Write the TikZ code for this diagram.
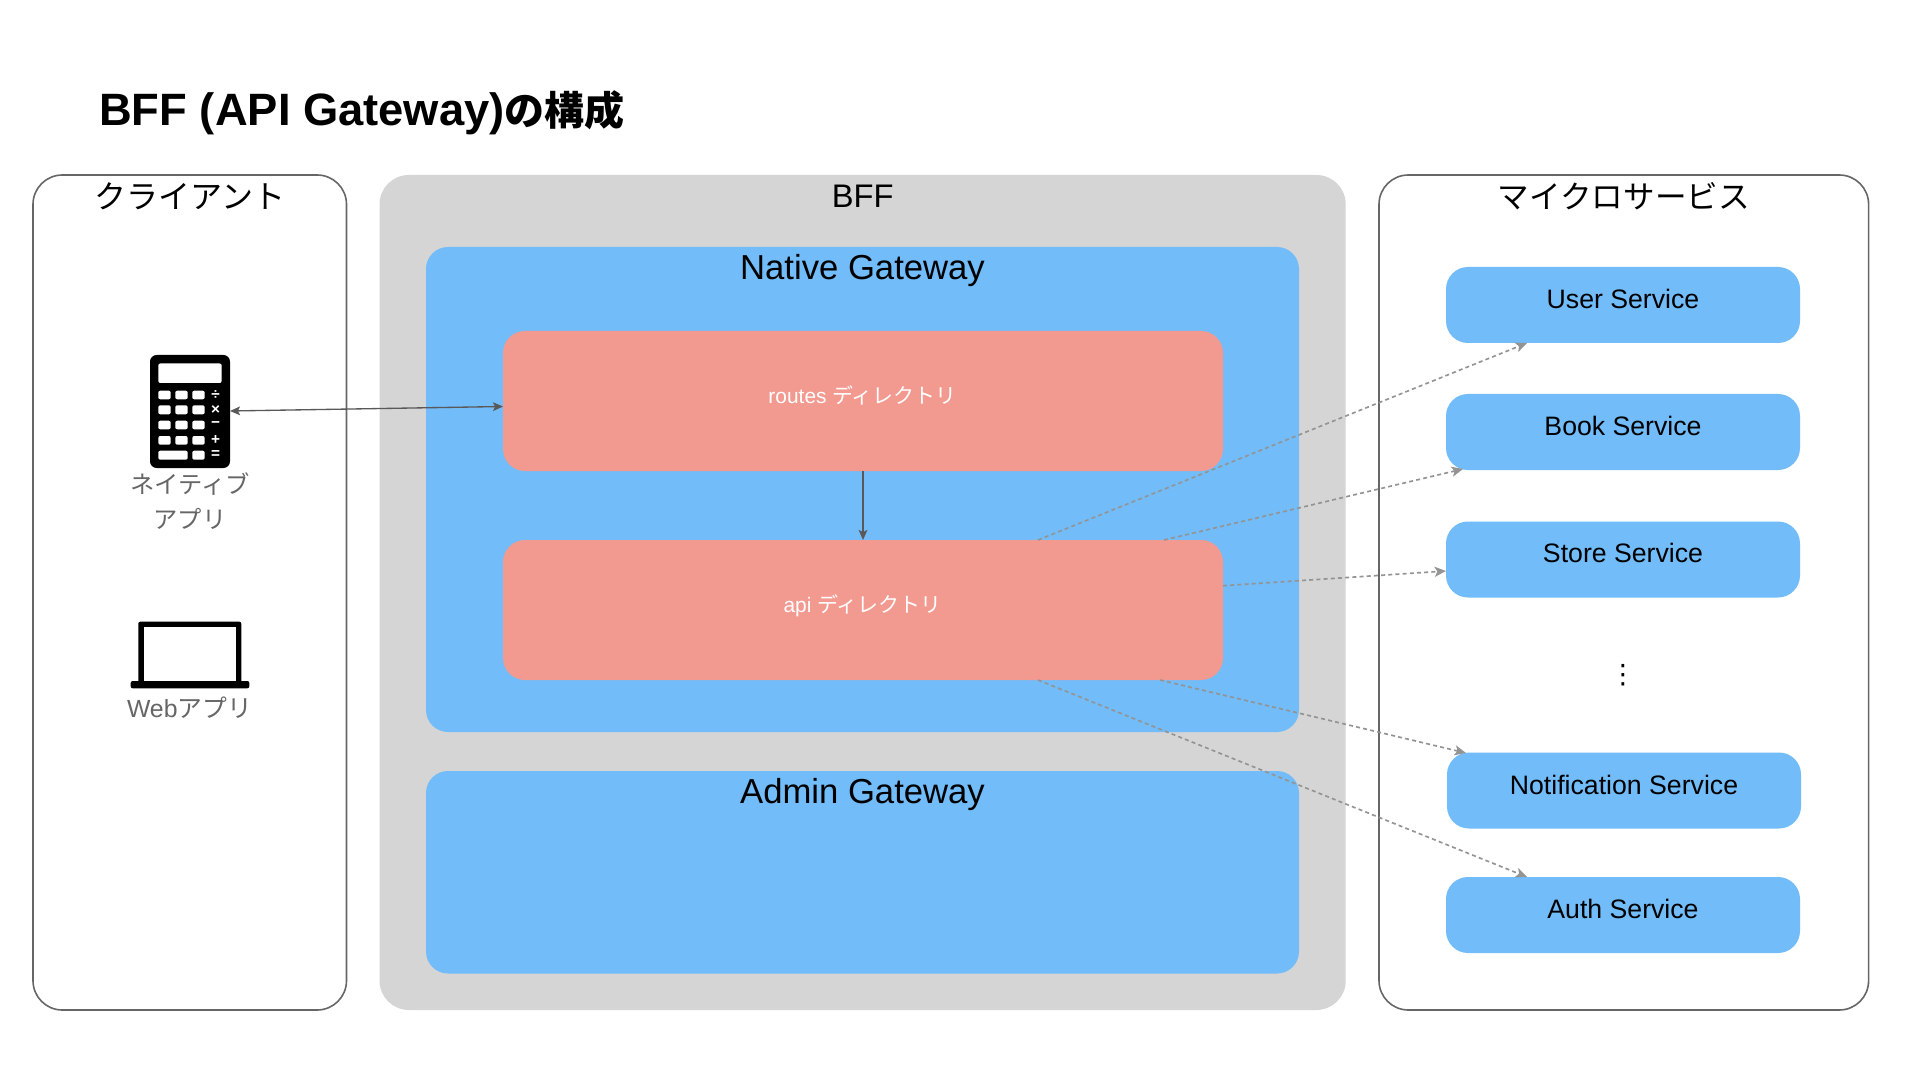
\documentclass[tikz,border=0pt]{standalone}
\usepackage{fontspec}
\setmainfont{Liberation Sans}
\newfontfamily\cjk{Noto Sans CJK JP}
\newfontfamily\dejavu{DejaVu Sans}
\usetikzlibrary{arrows.meta}
\newcommand\fsz[1]{\fontsize{#1}{#1}\selectfont}
\tikzset{
  pxbox/.style 2 args={minimum width=#1*.75pt,minimum height=#2*.75pt,inner sep=0pt,outer sep=0pt,rectangle},
  panel/.style={rounded corners=22pt,draw=none},
  outline/.style={panel,draw=black!60,line width=1.2pt,fill=white},
  grayp/.style={panel,fill=panelgray},
  bluep/.style={rounded corners=16.5pt,fill=svcblue},
  pinkp/.style={rounded corners=16.5pt,fill=dirpink},
  svc/.style={rounded corners=16.5pt,fill=svcblue},
  sect/.style={font=\cjk\fsz{24}},
  gate/.style={font=\fsz{26}},
  svctext/.style={font=\fsz{20}},
  dirtext/.style={font=\fsz{15.7},text=white},
  applabel/.style={font=\cjk\fsz{18.2},text=black!60},
  solidarrow/.style={draw=black!65,line width=1pt,-{Stealth[length=7.5pt,width=6.5pt,inset=1.6pt]}},
  dasharrow/.style={draw=black!42,line width=1.25pt,dash pattern=on 3pt off 2.4pt,-{Stealth[length=8.5pt,width=7.5pt,inset=2pt]}},
  key/.style={fill=white,rounded corners=1.5pt},
  sym/.style={font=\bfseries\fsz{11.5},text=white,inner sep=0pt}
}
\definecolor{panelgray}{HTML}{D5D5D5}
\definecolor{svcblue}{HTML}{71BCF9}
\definecolor{dirpink}{HTML}{F39A90}
\begin{document}
\begin{tikzpicture}[x=0.75pt,y=-0.75pt]
\useasboundingbox (0,0) rectangle (1920,1080);
\fill[white] (0,0) rectangle (1920,1080);
\node[anchor=base west,inner sep=0pt,font=\bfseries\fsz{34}] (title) at (99,126) {BFF (API Gateway){\cjk\fsz{30}{}の構成}};
% panels
\node[outline,pxbox={313.5}{835}] (client) at (189.75,592.5) {};
\node[grayp,pxbox={966.2}{835}] (bff) at (862.6,592.5) {};
\node[outline,pxbox={489.6}{835}] (micro) at (1623.8,592.5) {};
\node[sect] (clientL) at (189.75,196) {クライアント};
\node[font=\fsz{24.5}] (bffL) at (862.6,196) {BFF};
\node[sect,font=\cjk\fsz{23.7}] (microL) at (1623.8,196) {マイクロサービス};
% gateways
\node[bluep,pxbox={873}{485}] (native) at (862.5,489.5) {};
\node[bluep,pxbox={873}{202.5}] (admin) at (862.5,872.25) {};
\node[gate] (nativeL) at (862.5,270.5) {Native Gateway};
\node[gate] (adminL) at (862.5,794.5) {Admin Gateway};
% directories
\node[pinkp,pxbox={720}{140}] (routes) at (863,401) {};
\node[pinkp,pxbox={720}{140}] (api) at (863,610) {};
\node[dirtext] (routesL) at (862.5,395.5) {routes {\cjk ディレクトリ}};
\node[dirtext] (apiL) at (862.5,606) {api {\cjk ディレクトリ}};
% services
\node[svc,pxbox={354}{76}] (user) at (1623,305) {};
\node[svc,pxbox={354}{76}] (book) at (1623,432) {};
\node[svc,pxbox={354}{76}] (store) at (1623,559.5) {};
\node[svc,pxbox={354}{76}] (notif) at (1624,790.5) {};
\node[svc,pxbox={354}{76}] (auth) at (1623,915) {};
\node[svctext] (userL) at (1623,299) {User Service};
\node[svctext] (bookL) at (1623,426) {Book Service};
\node[svctext] (storeL) at (1623,553) {Store Service};
\node[svctext] (notifL) at (1624,785) {Notification Service};
\node[svctext] (authL) at (1623,909) {Auth Service};
\node[font=\dejavu\fsz{20},inner sep=0pt] (dots) at (1623,675.5) {⋮};
% calculator icon
\node[fill=black,rounded corners=5pt,pxbox={80}{113}] (calc) at (190,411.5) {};
\fill[key] (158.3,363.5) rectangle (221.7,383);
\foreach \ya/\yb in {390.7/399.3,405.3/414.3,420.7/429.3,436/444.7}{
  \fill[key] (158.3,\ya) rectangle (170.7,\yb);
  \fill[key] (175.3,\ya) rectangle (187.7,\yb);
  \fill[key] (192.3,\ya) rectangle (204.7,\yb);
}
\fill[key] (158.3,450.7) rectangle (187.7,459.7);
\fill[key] (192.3,450.7) rectangle (204.7,459.7);
\node[sym] at (215.5,395) {÷};
\node[sym] at (215.5,410) {×};
\node[sym] at (215.5,425) {−};
\node[sym] at (215.5,440) {+};
\node[sym] at (215.5,455) {=};
\node[applabel,align=center] (nativeApp) at (190,484) {ネイティブ};
\node[applabel] (nativeApp2) at (190,519) {アプリ};
% laptop icon
\fill[black,rounded corners=1.5pt] (138.3,621.7) rectangle (241.3,684);
\fill[white] (144,627.3) rectangle (236,681.7);
\fill[black,rounded corners=1.5pt] (130.7,681) rectangle (249.3,688.3);
\node[applabel,font=\cjk\fsz{18.6}] (webApp) at (189.5,708) {{\fontspec{Liberation Sans}Web}アプリ};
% connector ends
\coordinate (calcE) at (230,411);
\coordinate (routesW) at (503,406.5);
\coordinate (apiU) at (1038,540);
\coordinate (apiB) at (1164,540);
\coordinate (apiS) at (1223,585.7);
\coordinate (apiN) at (1160,680);
\coordinate (apiA) at (1038,680);
\coordinate (userE) at (1527,343);
\coordinate (bookE) at (1463,469);
\coordinate (storeE) at (1446,571);
\coordinate (notifE) at (1466,753);
\coordinate (authE) at (1527,877);
\draw[solidarrow,{Stealth[length=7.5pt,width=6.5pt,inset=1.6pt]}-{Stealth[length=7.5pt,width=6.5pt,inset=1.6pt]}] (calcE) -- (routesW);
\draw[solidarrow] (routes.south) -- (api.north);
\draw[dasharrow] (apiU) -- (userE);
\draw[dasharrow] (apiB) -- (bookE);
\draw[dasharrow] (apiS) -- (storeE);
\draw[dasharrow] (apiN) -- (notifE);
\draw[dasharrow] (apiA) -- (authE);
\end{tikzpicture}
\end{document}
